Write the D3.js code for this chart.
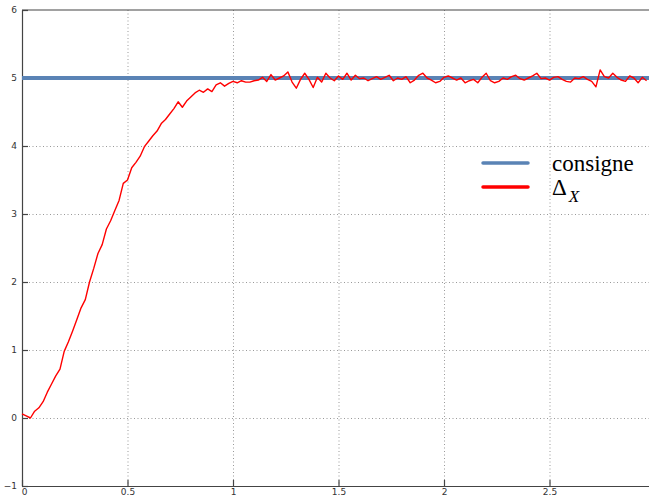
<!DOCTYPE html>
<html>
<head>
<meta charset="utf-8">
<script src="https://cdn.jsdelivr.net/npm/d3@7"></script>
<style>
  body { margin: 0; background: #fff; }
  .tick text { font-family: "DejaVu Sans", sans-serif; font-size: 9px; fill: #333; }
</style>
</head>
<body>
<svg width="649" height="497"></svg>
<script>
const step = 0.02;
const deltaX = [
  0.06, 0.03, 0.0, 0.1, 0.15, 0.24, 0.38, 0.5, 0.62, 0.72,
  0.98, 1.12, 1.28, 1.45, 1.62, 1.74, 2.0, 2.2, 2.42, 2.55,
  2.78, 2.9, 3.05, 3.2, 3.45, 3.5, 3.68, 3.76, 3.85, 3.99,
  4.07, 4.15, 4.22, 4.33, 4.39, 4.47, 4.55, 4.65, 4.57, 4.66,
  4.72, 4.78, 4.82, 4.79, 4.84, 4.8, 4.9, 4.93, 4.88, 4.92,
  4.95, 4.93, 4.96, 4.94, 4.94, 4.96, 4.97, 5.01, 4.95, 5.05,
  4.97, 5.0, 5.03, 5.09, 4.94, 4.85, 4.98, 5.07, 4.98, 4.86,
  5.01, 4.94, 5.07, 5.0, 4.96, 5.03, 4.98, 5.07, 4.97, 5.04,
  4.99, 5.0, 4.96, 4.99, 5.02, 4.98, 5.01, 5.04, 4.96, 5.0,
  4.98, 5.02, 4.93, 4.97, 5.04, 5.07, 5.0, 4.97, 4.93, 4.95,
  5.01, 5.03, 5.0, 4.97, 5.0, 4.93, 4.96, 4.98, 4.93, 5.01,
  5.07, 4.96, 4.93, 4.95, 5.0, 4.98, 5.02, 5.04, 4.99, 4.97,
  5.0, 5.03, 5.07, 4.99, 5.0, 4.97, 5.01, 5.02, 4.98, 4.95,
  4.94, 5.0, 4.99, 5.02, 4.98, 4.95, 4.87, 5.12, 5.02, 5.0,
  5.07, 5.01, 4.97, 4.95, 5.03, 5.0, 4.93, 5.01, 4.96
];
const consigne = 5;
const xTicks = [0, 0.5, 1, 1.5, 2, 2.5];
const yTicks = [-1, 0, 1, 2, 3, 4, 5, 6];
const legendLabels = ["consigne", "Δ"];

const data = deltaX.map((v, i) => ({t: i * step, v: v}));

const svg = d3.select("svg");
const mLeft = 22, mTop = 10, mBottom = 486, mRight = 655;

const x = d3.scaleLinear().domain([0, 3]).range([mLeft, mRight]);
const y = d3.scaleLinear().domain([-1, 6]).range([mBottom, mTop]);

// grid
const grid = svg.append("g").attr("stroke", "#999").attr("stroke-dasharray", "1,2.5");
grid.selectAll(".gx").data(xTicks.slice(1)).enter().append("line")
  .attr("x1", d => x(d) + 0.5).attr("x2", d => x(d) + 0.5)
  .attr("y1", mTop).attr("y2", mBottom);
grid.selectAll(".gy").data(yTicks.slice(1, -1)).enter().append("line")
  .attr("y1", d => Math.round(y(d)) + 0.5).attr("y2", d => Math.round(y(d)) + 0.5)
  .attr("x1", mLeft).attr("x2", 649);

// axes
const xAxis = svg.append("g")
  .attr("transform", `translate(0,${mBottom})`)
  .call(d3.axisBottom(x).tickValues(xTicks).tickSizeInner(-6).tickSizeOuter(0).tickPadding(3)
    .tickFormat(d3.format("")));
const yAxis = svg.append("g")
  .attr("transform", `translate(${mLeft},0)`)
  .call(d3.axisLeft(y).tickValues(yTicks).tickSizeInner(-6).tickSizeOuter(0).tickPadding(5)
    .tickFormat(d3.format("")));
[xAxis, yAxis].forEach(a => {
  a.select(".domain").attr("stroke", "#444").attr("stroke-width", 1.2);
  a.selectAll(".tick line").attr("stroke", "#444").attr("stroke-width", 1.2);
});
xAxis.select(".tick text").attr("dx", "2");
svg.append("line").attr("x1", mLeft).attr("x2", 649).attr("y1", mTop).attr("y2", mTop)
  .attr("stroke", "#444").attr("stroke-width", 1.2);

// consigne
svg.append("line")
  .attr("x1", x(0)).attr("x2", 649)
  .attr("y1", y(consigne)).attr("y2", y(consigne))
  .attr("stroke", "#5a83b5").attr("stroke-width", 4);

// response
svg.append("path").datum(data)
  .attr("fill", "none").attr("stroke", "#ff0000").attr("stroke-width", 1.4)
  .attr("stroke-linejoin", "round")
  .attr("d", d3.line().x(d => x(d.t)).y(d => y(d.v)));

// legend
const legend = svg.append("g").attr("transform", "translate(483,163)");
const colors = ["#5a83b5", "#ff0000"];
legendLabels.forEach((lab, i) => {
  legend.append("line").attr("x1", 0).attr("x2", 45)
    .attr("y1", i * 24).attr("y2", i * 24)
    .attr("stroke", colors[i]).attr("stroke-width", 3.5).attr("stroke-linecap", "round");
  const t = legend.append("text").attr("x", 69).attr("y", i * 24 + 8)
    .attr("font-family", "Liberation Serif, serif").attr("font-size", 23).attr("fill", "#000")
    .text(lab);
  if (i === 1) {
    t.append("tspan").attr("font-style", "italic").attr("font-size", 17).attr("dy", 7).attr("dx", 2).text("X");
  }
});
</script>
</body>
</html>
